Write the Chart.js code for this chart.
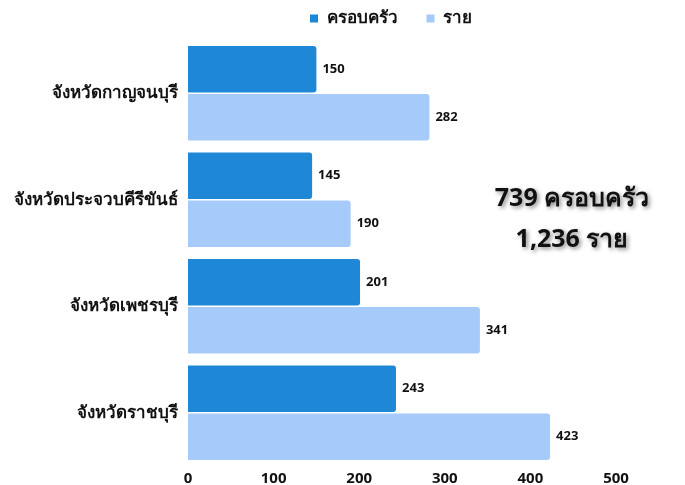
<!DOCTYPE html>
<html>
<head>
<meta charset="utf-8">
<script src="https://cdn.jsdelivr.net/npm/chart.js@4"></script>
<style>
  html, body { margin: 0; padding: 0; background: #fff; }
  #wrap { width: 685px; height: 485px; position: relative; }
</style>
</head>
<body>
<div id="wrap"><canvas id="myChart"></canvas></div>
<script>
// data
var provinces = ["จังหวัดกาญจนบุรี", "จังหวัดประจวบคีรีขันธ์", "จังหวัดเพชรบุรี", "จังหวัดราชบุรี"];
var families = [150, 145, 201, 243];
var persons = [282, 190, 341, 423];
var seriesNames = ["ครอบครัว", "ราย"];
var xTicks = [0, 100, 200, 300, 400, 500];

var fontFam = "'Noto Sans', 'Open Sans', sans-serif";

function sum(a) { return a.reduce(function (s, v) { return s + v; }, 0); }

// legend: fixed height and nudged a bit to the left
var legendTweak = {
    id: 'legendTweak',
    beforeInit: function (chart) {
        var lg = chart.legend;
        var fit = lg.fit;
        lg.fit = function () {
            fit.call(this);
            this.height = 59;
        };
        var draw = lg.draw;
        lg.draw = function (area) {
            var ctx = this.ctx;
            ctx.save();
            ctx.translate(-11, 0);
            draw.call(this, area);
            ctx.restore();
        };
    }
};

// value labels at the end of each bar
var valueLabels = {
    id: 'valueLabels',
    afterDatasetsDraw: function (chart) {
        var ctx = chart.ctx;
        ctx.save();
        ctx.font = "bold 13px " + fontFam;
        ctx.fillStyle = '#111';
        ctx.textBaseline = 'middle';
        ctx.textAlign = 'left';
        chart.data.datasets.forEach(function (ds, i) {
            chart.getDatasetMeta(i).data.forEach(function (bar, j) {
                ctx.fillText(ds.data[j], bar.x + 6, bar.y);
            });
        });
        ctx.restore();
    }
};

// big totals on the right
var totals = {
    id: 'totals',
    afterDraw: function (chart) {
        var ctx = chart.ctx;
        ctx.save();
        ctx.font = "bold 25px " + fontFam;
        ctx.fillStyle = '#111';
        ctx.textAlign = 'center';
        ctx.textBaseline = 'middle';
        ctx.shadowColor = 'rgba(0,0,0,0.45)';
        ctx.shadowBlur = 4;
        ctx.shadowOffsetX = 2;
        ctx.shadowOffsetY = 2;
        ctx.fillText(sum(families) + " " + seriesNames[0], 572, 199);
        ctx.fillText(sum(persons).toLocaleString('en-US') + " " + seriesNames[1], 572, 240);
        ctx.restore();
    }
};

var myChart = document.getElementById("myChart").getContext('2d');
var chart = new Chart(myChart, {
    type: 'bar',
    data: {
        labels: provinces,
        datasets: [{
            label: seriesNames[0],
            data: families,
            backgroundColor: '#1f88d6',
            borderRadius: 3,
            borderSkipped: 'start',
            categoryPercentage: 0.9,
            barPercentage: 0.97
        }, {
            label: seriesNames[1],
            data: persons,
            backgroundColor: '#a6cbfa',
            borderRadius: 3,
            borderSkipped: 'start',
            categoryPercentage: 0.9,
            barPercentage: 0.97
        }]
    },
    options: {
        indexAxis: 'y',
        responsive: true,
        maintainAspectRatio: false,
        animation: false,
        layout: { padding: { left: 0, right: 69, top: -19, bottom: 0 } },
        plugins: {
            legend: {
                position: 'top',
                fullSize: false,
                labels: {
                    boxWidth: 8,
                    boxHeight: 8,
                    padding: 29,
                    color: '#111',
                    font: { family: fontFam, size: 17, weight: 'bold' }
                }
            },
            tooltip: { enabled: false }
        },
        scales: {
            x: {
                min: 0,
                max: 500,
                afterBuildTicks: function (axis) {
                    axis.ticks = xTicks.map(function (v) { return { value: v }; });
                },
                afterFit: function (axis) { axis.height = 19; },
                grid: { display: false },
                border: { display: false },
                ticks: {
                    color: '#111',
                    padding: -4,
                    font: { family: fontFam, size: 15, weight: 'bold' }
                }
            },
            y: {
                afterFit: function (axis) { axis.width = 188; },
                grid: { display: false },
                border: { display: false },
                ticks: {
                    color: '#111',
                    padding: 2,
                    font: { family: fontFam, size: 17, weight: 'bold' }
                }
            }
        }
    },
    plugins: [legendTweak, valueLabels, totals]
});
</script>
</body>
</html>
